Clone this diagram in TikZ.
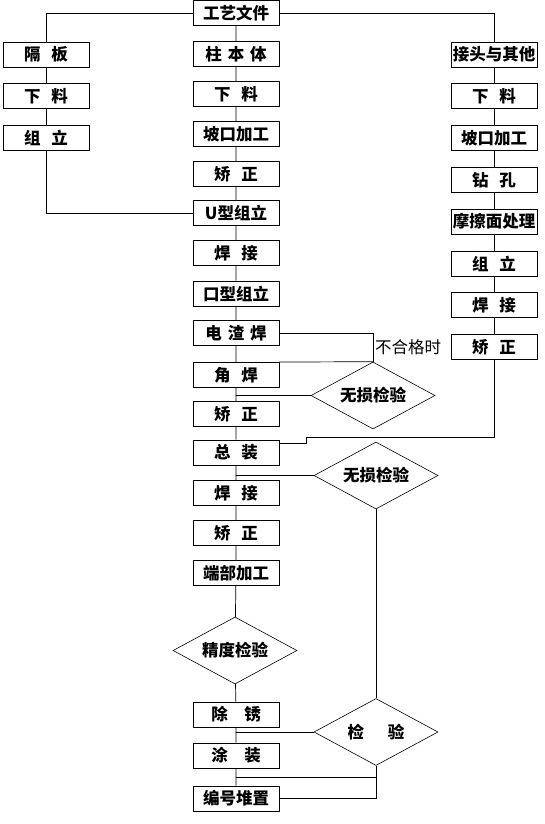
\documentclass[tikz,border=0pt]{standalone}
\usepackage{fontspec}
\newfontfamily\cjk{Noto Sans CJK SC}
\usetikzlibrary{shapes.geometric}
\newcommand\gp{\hspace{0.65em}}
\newcommand\gq{\hspace{0.35em}}
\begin{document}
\begin{tikzpicture}[
    x=1pt, y=-1pt,
    every node/.style={font=\cjk\fontsize{16.5}{18}\selectfont\bfseries, inner sep=0pt},
    box/.style={draw, line width=0.9pt, minimum width=86pt, minimum height=25pt},
    check/.style={draw, diamond, aspect=1.85, line width=0.6pt, minimum width=124pt, minimum height=67pt},
    link/.style={draw, line width=0.7pt}
  ]
    \useasboundingbox (0,0) rectangle (544,824);
    % centre column
    \node[box] (gywj) at (236,13) {工艺文件};
    \node[box] (zbt) at (236,54) {柱\gq 本\gq 体};
    \node[box] (xl1) at (236,94) {下\gp 料};
    \node[box] (pk1) at (236,134) {坡口加工};
    \node[box] (jz1) at (236,174) {矫\gp 正};
    \node[box] (uzl) at (236,213) {U型组立};
    \node[box] (hj1) at (236,253) {焊\gp 接};
    \node[box] (kzl) at (236,293.5) {口型组立};
    \node[box] (dzh) at (236,333) {电\gq 渣\gq 焊};
    \node[box] (jh) at (236,375) {角\gp 焊};
    \node[box] (jz2) at (236,414) {矫\gp 正};
    \node[box] (zz) at (236,452.5) {总\gp 装};
    \node[box] (hj2) at (236,493) {焊\gp 接};
    \node[box] (jz3) at (236,533) {矫\gp 正};
    \node[box] (dbjg) at (236,573) {端部加工};
    \node[check] (jdjy) at (235,650.5) {精度检验};
    \node[box] (cx) at (236,714.5) {除\hspace{1em}锈};
    \node[box] (tz) at (236,755.5) {涂\hspace{1em}装};
    \node[box] (bhdz) at (236,798.5) {编号堆置};
    % left column
    \node[box] (gb) at (46,54.5) {隔\gp 板};
    \node[box] (xl2) at (46,96.3) {下\gp 料};
    \node[box] (zl1) at (46,138.1) {组\gp 立};
    % right column
    \node[box] (jt) at (494,54.5) {接头与其他};
    \node[box] (xl3) at (494,96.3) {下\gp 料};
    \node[box] (pk2) at (494,138.1) {坡口加工};
    \node[box] (zk) at (494,179.9) {钻\gp 孔};
    \node[box] (mcm) at (494,221.7) {摩擦面处理};
    \node[box] (zl2) at (494,263.5) {组\gp 立};
    \node[box] (hj3) at (494,305.3) {焊\gp 接};
    \node[box] (jz4) at (494,347.1) {矫\gp 正};
    % checks
    \node[check] (ws1) at (373,395.5) {无损检验};
    \node[check] (ws2) at (376,475.5) {无损检验};
    \node[check] (jy) at (376,732) {检\hspace{1.45em}验};
    \node[font=\cjk\fontsize{16.5}{18}\selectfont] (bhg) at (408,347) {不合格时};
    \coordinate (zzin) at (279,443);
    \coordinate (mid) at (236,777.5);

    \draw[link] (gywj.west) -| (gb.north);
    \draw[link] (gywj.east) -| (jt.north);
    \draw[link] (gb) -- (xl2) -- (zl1);
    \draw[link] (zl1.south) |- (uzl.west);
    \draw[link] (gywj) -- (zbt) -- (xl1) -- (pk1) -- (jz1) -- (uzl) -- (hj1) -- (kzl)
      -- (dzh) -- (jh) -- (jz2) -- (zz) -- (hj2) -- (jz3) -- (dbjg) -- (jdjy) -- (cx)
      -- (tz) -- (bhdz);
    \draw[link] (jt) -- (xl3) -- (pk2) -- (zk) -- (mcm) -- (zl2) -- (hj3) -- (jz4);
    \draw[link] (jz4.south) |- (306,437) |- (zzin);
    \draw[link] (dzh.east) -| (ws1.north);
    \draw[link] (jh.north east) -- (ws1.north);
    \draw[link] (ws1.west) -- (ws1.west -| jh.south);
    \draw[link] (ws2.west) -- (ws2.west -| zz.south);
    \draw[link] (ws2.south) -- (jy.north);
    \draw[link] (jy.west) -- (jy.west -| cx.south);
    \draw[link] (jy.south) |- (bhdz.east);
    \draw[link] (mid) -- (mid -| jy.south);
\end{tikzpicture}
\end{document}
